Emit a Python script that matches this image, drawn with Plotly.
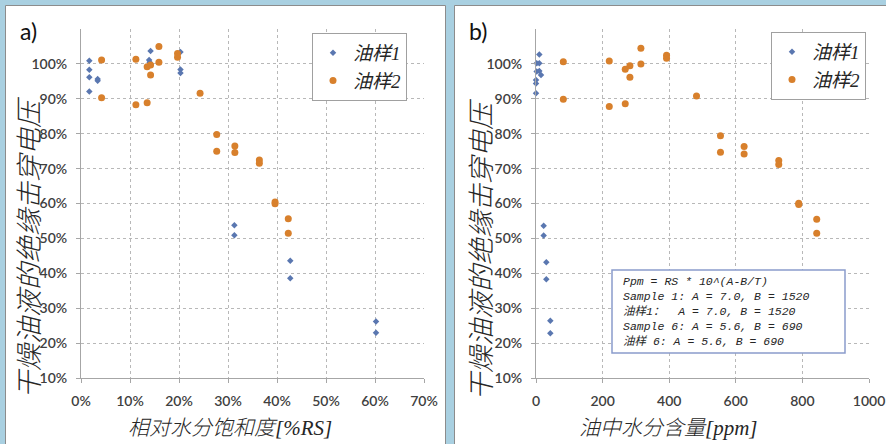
import plotly.graph_objects as go

# ---- data ----
# panel a: relative saturation [%RS] vs breakdown voltage [%]
rs_s1 = [1.7, 1.7, 1.7, 3.4, 3.4, 1.7, 14.2, 13.9, 14.0, 20.3, 20.3, 20.3,
         31.3, 31.3, 42.7, 42.7, 60.2, 60.2]
bv_a_s1 = [100.9, 98.3, 96.2, 95.7, 95.2, 92.1, 103.7, 101.1, 100.5, 103.4, 98.4, 97.4,
           53.8, 50.9, 43.6, 38.6, 26.2, 23.0]
rs_s2 = [4.2, 4.2, 11.2, 11.2, 13.5, 13.5, 14.2, 14.2, 15.9, 15.9, 19.7, 19.7,
         24.3, 27.7, 27.7, 31.4, 31.4, 36.4, 36.4, 39.6, 39.6, 42.3, 42.3]
bv_a_s2 = [101.1, 90.3, 101.3, 88.3, 88.9, 99.2, 99.7, 96.8, 105.0, 100.5, 103.0, 101.9,
           91.6, 79.8, 75.0, 76.5, 74.6, 72.5, 71.5, 60.4, 59.9, 55.6, 51.5]

# panel b: water content [ppm] vs breakdown voltage [%]
ppm_s1 = [10, 2, 10, 2, 10, 15, 0, 0, 0, 23, 23, 31, 31, 43, 43]
bv_b_s1 = [102.7, 100.2, 100.2, 97.8, 98.0, 96.8, 95.4, 94.4, 91.6,
           53.6, 50.8, 43.2, 38.3, 26.4, 22.8]
ppm_s2 = [82, 82, 220, 220, 268, 268, 282, 282, 315, 315, 392, 392,
          482, 554, 554, 625, 625, 729, 729, 789, 789, 843, 843]
bv_b_s2 = [100.6, 89.9, 100.8, 87.8, 88.6, 98.5, 99.5, 96.2, 104.5, 100.0, 102.5, 101.6,
           90.8, 79.4, 74.7, 76.3, 74.2, 72.3, 71.2, 60.1, 59.7, 55.5, 51.5]

series_names = ["油样1", "油样2"]
y_ticks = [10, 20, 30, 40, 50, 60, 70, 80, 90, 100]
y_ticktext = ["10%", "20%", "30%", "40%", "50%", "60%", "70%", "80%", "90%", "100%"]
xa_ticks = [0, 10, 20, 30, 40, 50, 60, 70]
xa_ticktext = ["0%", "10%", "20%", "30%", "40%", "50%", "60%", "70%"]
xb_ticks = [0, 200, 400, 600, 800, 1000]
xb_ticktext = ["0", "200", "400", "600", "800", "1000"]
y_title = "干燥油液的绝缘击穿电压"
xa_title = "相对水分饱和度[%RS]"
xb_title = "油中水分含量[ppm]"
note_lines = ["Ppm = RS * 10^(A-B/T)",
              "Sample 1: A = 7.0, B = 1520",
              "油样1：  A = 7.0, B = 1520",
              "Sample 6: A = 5.6, B = 690",
              "油样 6: A = 5.6, B = 690"]

# ---- style ----
W, H = 886, 444
BLUE = "#5a77b0"
ORANGE = "#d8802c"
GRID = "#b8b8b8"
AXLINE = "#a6a6a6"
TICKFONT = dict(family="Lato, Open Sans, sans-serif", size=14, color="#404040", weight=600)
SERIF_IT = dict(family="Liberation Serif, Noto Sans CJK SC", size=19, color="#262626", style="italic")

def px_x(p):
    return p / W

def px_y(p):
    return 1 - p / H

fig = go.Figure()

fig.add_trace(go.Scatter(x=rs_s1, y=bv_a_s1, mode="markers", name=series_names[0],
                         marker=dict(color=BLUE, size=5, symbol="diamond"), cliponaxis=False,
                         xaxis="x", yaxis="y", legend="legend"))
fig.add_trace(go.Scatter(x=rs_s2, y=bv_a_s2, mode="markers", name=series_names[1],
                         marker=dict(color=ORANGE, size=7), cliponaxis=False,
                         xaxis="x", yaxis="y", legend="legend"))
fig.add_trace(go.Scatter(x=ppm_s1, y=bv_b_s1, mode="markers", name=series_names[0],
                         marker=dict(color=BLUE, size=5, symbol="diamond"), cliponaxis=False,
                         xaxis="x2", yaxis="y2", legend="legend2"))
fig.add_trace(go.Scatter(x=ppm_s2, y=bv_b_s2, mode="markers", name=series_names[1],
                         marker=dict(color=ORANGE, size=7), cliponaxis=False,
                         xaxis="x2", yaxis="y2", legend="legend2"))

ydom = [px_y(378), px_y(29)]
common_y = dict(range=[10, 110], tickmode="array", tickvals=y_ticks, ticktext=y_ticktext,
                showgrid=True, gridcolor=GRID, griddash="dot", gridwidth=1, zeroline=False,
                showline=True, linecolor=AXLINE, linewidth=1, ticks="outside",
                ticklen=4, tickcolor=AXLINE, tickfont=TICKFONT, ticklabelstandoff=6,
                domain=ydom, fixedrange=True, automargin=False)
common_x = dict(showgrid=True, gridcolor=GRID, griddash="dot", gridwidth=1,
                zeroline=False, showline=True, linecolor=AXLINE, linewidth=1,
                ticks="outside", ticklen=4, tickcolor=AXLINE, tickfont=TICKFONT,
                ticklabelstandoff=6, fixedrange=True, automargin=False, tickmode="array")

legend_common = dict(bgcolor="white", bordercolor="#a0a0a0", borderwidth=1,
                     font=SERIF_IT, xanchor="left", yanchor="top",
                     itemsizing="trace", tracegroupgap=0, itemwidth=30)

fig.update_layout(
    width=W, height=H,
    margin=dict(l=0, r=0, t=0, b=0),
    paper_bgcolor="#a9d0e1",
    plot_bgcolor="white",
    xaxis=dict(common_x, range=[0, 70], tickvals=xa_ticks, ticktext=xa_ticktext,
               domain=[px_x(81), px_x(424)], anchor="y"),
    yaxis=dict(common_y, anchor="x"),
    xaxis2=dict(common_x, range=[0, 1000], tickvals=xb_ticks, ticktext=xb_ticktext,
                domain=[px_x(536), px_x(869)], anchor="y2"),
    yaxis2=dict(common_y, anchor="x2"),
    legend=dict(legend_common, x=px_x(312), y=px_y(33)),
    legend2=dict(legend_common, x=px_x(771), y=px_y(32)),
    showlegend=True,
)

# white panels
for x0, x1 in [(5.5, 445.5), (454.5, 892)]:
    fig.add_shape(type="rect", xref="paper", yref="paper",
                  x0=px_x(x0), x1=px_x(x1), y0=px_y(450), y1=px_y(5.5),
                  fillcolor="white", line=dict(color="#8c8c8c", width=1), layer="below")

# note box
fig.add_shape(type="rect", xref="paper", yref="paper",
              x0=px_x(612), x1=px_x(845), y0=px_y(353), y1=px_y(270),
              fillcolor="white", line=dict(color="#8a9ccc", width=1.5), layer="above")
fig.add_annotation(xref="paper", yref="paper", x=px_x(621), y=px_y(273),
                   xanchor="left", yanchor="top", align="left", showarrow=False,
                   text="<br>".join(note_lines),
                   font=dict(family="Liberation Mono, Noto Sans CJK SC", size=11.5,
                             color="#262626", style="italic"))

# panel labels
LBL_FONT = dict(family="Lato, sans-serif", size=23, color="#111")
fig.add_annotation(xref="paper", yref="paper", x=px_x(28), y=px_y(31), text="a)",
                   xanchor="center", yanchor="middle", showarrow=False, font=LBL_FONT)
fig.add_annotation(xref="paper", yref="paper", x=px_x(478), y=px_y(31), text="b)",
                   xanchor="center", yanchor="middle", showarrow=False, font=LBL_FONT)

# axis titles
TITLE_FONT = dict(family="Liberation Serif, Noto Sans CJK SC", size=21, color="#262626",
                  style="italic", weight=300)
YT_FONT = dict(TITLE_FONT, size=27)
for xp, yp in [(30, 248), (482, 250)]:
    fig.add_annotation(xref="paper", yref="paper", x=px_x(xp), y=px_y(yp), text=y_title,
                       xanchor="center", yanchor="middle", textangle=-90,
                       showarrow=False, font=YT_FONT)
fig.add_annotation(xref="paper", yref="paper", x=px_x(230), y=px_y(428), text=xa_title,
                   xanchor="center", yanchor="middle", showarrow=False, font=TITLE_FONT)
fig.add_annotation(xref="paper", yref="paper", x=px_x(668), y=px_y(428), text=xb_title,
                   xanchor="center", yanchor="middle", showarrow=False, font=TITLE_FONT)

fig.write_html("out.html", config={"displayModeBar": False},
               post_script="document.body.style.margin='0';document.body.style.background='#a9d0e1';")
